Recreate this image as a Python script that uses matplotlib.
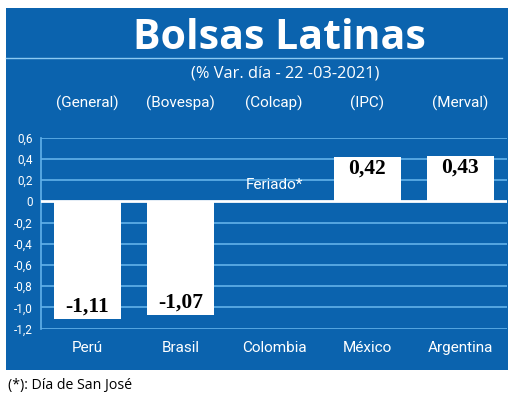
import matplotlib.pyplot as plt
import matplotlib.patches as mpatches
import numpy as np

# ── data ───────────────────────────────────────────────────────────────────────
countries = ["Perú", "Brasil", "Colombia", "México", "Argentina"]
indices = ["(General)", "(Bovespa)", "(Colcap)", "(IPC)", "(Merval)"]
values = [-1.11, -1.07, None, 0.42, 0.43]
value_labels = ["-1,11", "-1,07", "", "0,42", "0,43"]
yticks = [0.6, 0.4, 0.2, 0, -0.2, -0.4, -0.6, -0.8, -1.0, -1.2]
ytick_labels = ["0,6", "0,4", "0,2", "0", "-0,2", "-0,4", "-0,6", "-0,8", "-1,0", "-1,2"]

# ── colours / fonts ────────────────────────────────────────────────────────────
C_BLUE = "#0b63ae"
C_GRID = "#62b2ea"
NARROW = ["Roboto", "DejaVu Sans"]
SERIF = ["Liberation Serif", "DejaVu Serif"]

fig = plt.figure(figsize=(5.2, 4.05), dpi=100)
fig.patch.set_facecolor("white")
W, H = 520, 405

# blue panel
fig.patches.append(mpatches.Rectangle((6 / W, 1 - 370 / H), 502 / W, 362 / H,
                                      transform=fig.transFigure, facecolor=C_BLUE,
                                      edgecolor="none", zorder=-5))
# line under title
fig.add_artist(plt.Line2D([6 / W, 502 / W], [1 - 58 / H, 1 - 58 / H],
                          transform=fig.transFigure, color="#8ccaf2", linewidth=1.0))

fig.text(279 / W, 1 - 38.5 / H, "Bolsas Latinas", color="white", fontsize=29.5,
         fontweight="bold", family=["Open Sans", "DejaVu Sans"], ha="center", va="center")
fig.text(285 / W, 1 - 73 / H, "(% Var. día - 22 -03-2021)", color="white", fontsize=11.8,
         family=["Open Sans", "DejaVu Sans"], ha="center", va="center")

ax = fig.add_axes([41 / W, 1 - 328.7 / H, 466 / W, 191 / H])
ax.set_facecolor("none")
x = np.arange(len(countries))
ax.set_xlim(-0.5, 4.5)
ax.set_ylim(-1.2, 0.6)

for t in yticks:
    if t == 0:
        continue
    ax.axhline(t, color=C_GRID, linewidth=1.2, zorder=1)

for xi, v, lab in zip(x, values, value_labels):
    if v is None:
        continue
    ax.bar(xi, v, width=0.72, color="white", zorder=2)
    if v < 0:
        ax.text(xi, v + 0.025, lab, ha="center", va="bottom", fontsize=15.5,
                fontweight="bold", family=SERIF, color="black", zorder=3)
    else:
        ax.text(xi, v - 0.02, lab, ha="center", va="top", fontsize=15.5,
                fontweight="bold", family=SERIF, color="black", zorder=3)

ax.axhline(0, color="white", linewidth=2.0, zorder=3)
ax.text(2, 0.15, "Feriado*", ha="center", va="center", color="white", fontsize=11,
        family=NARROW)

for xi, idx in zip(x, indices):
    ax.text(xi, 1.18, idx, transform=ax.get_xaxis_transform(), ha="center",
            va="center", color="white", fontsize=11, family=NARROW)

for s in ["top", "right", "bottom"]:
    ax.spines[s].set_visible(False)
ax.spines["left"].set_color(C_GRID)
ax.spines["left"].set_linewidth(1.2)

ax.set_yticks(yticks)
ax.set_yticklabels(ytick_labels, color="white", fontsize=8.5, family=NARROW)
ax.tick_params(axis="y", length=0, pad=6)
ax.set_xticks(x)
ax.set_xticklabels(countries, color="white", fontsize=11, family=NARROW)
ax.tick_params(axis="x", length=0, pad=9)

fig.text(8 / W, 1 - 385 / H, "(*): Día de San José", color="black", fontsize=10.2,
         family=["Open Sans", "DejaVu Sans"], ha="left", va="center")

fig.savefig("out.png", dpi=100)
